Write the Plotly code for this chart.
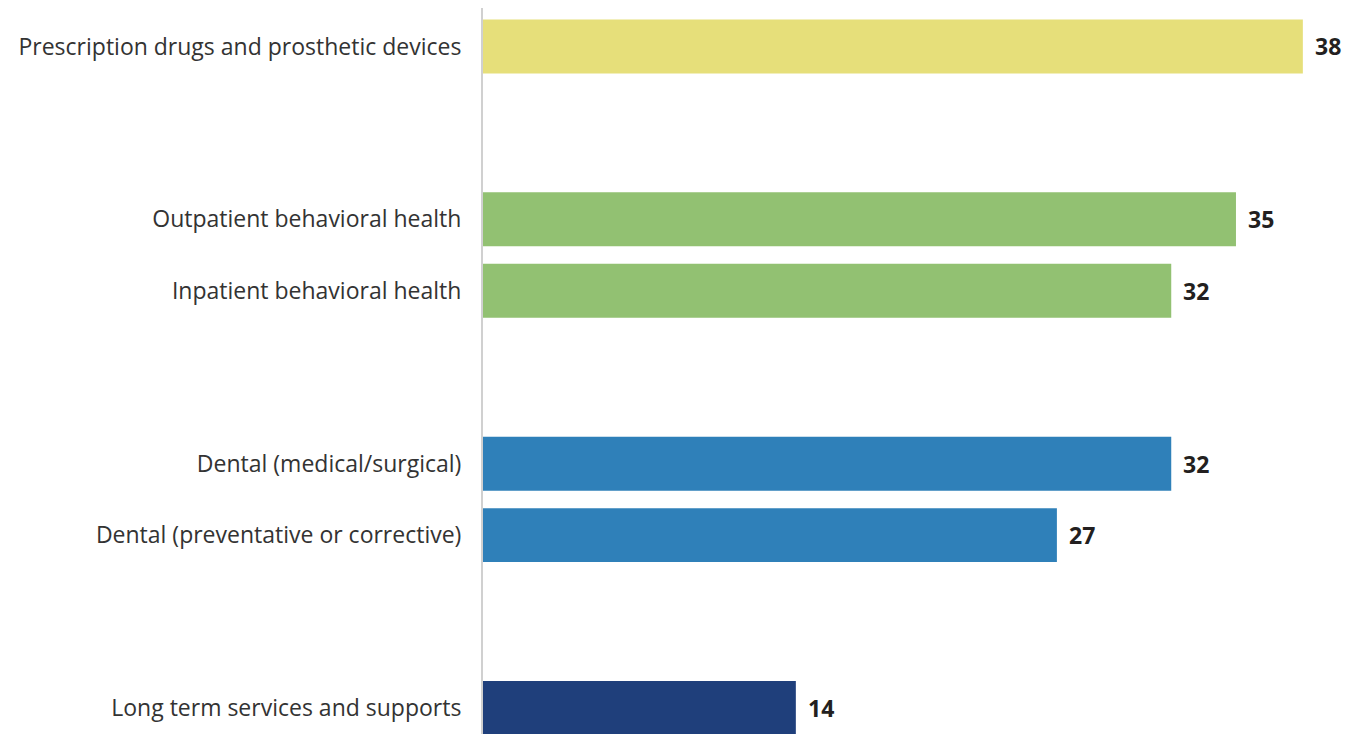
import plotly.graph_objects as go

# Data
categories = [
    "Prescription drugs and prosthetic devices",
    "Outpatient behavioral health",
    "Inpatient behavioral health",
    "Dental (medical/surgical)",
    "Dental (preventative or corrective)",
    "Long term services and supports",
]
values = [38.0, 34.9, 31.9, 31.9, 26.6, 14.5]
value_labels = ["38", "35", "32", "32", "27", "14"]
groups = [0, 1, 1, 2, 2, 3]
group_colors = ["#E6DF7A", "#92C172", "#2F80B9", "#1F3F7B"]

# Layout positions computed from group structure
GROUP_GAP = 2.42
positions = []
pos = 0.0
for i, g in enumerate(groups):
    if i > 0:
        pos += GROUP_GAP if g != groups[i - 1] else 1.0
    positions.append(pos)

colors = [group_colors[g] for g in groups]

fig = go.Figure()
fig.add_trace(go.Bar(
    x=values,
    y=positions,
    orientation="h",
    marker=dict(color=colors, line=dict(width=0)),
    width=0.755,
    hoverinfo="skip",
))

for v, p, t in zip(values, positions, value_labels):
    fig.add_annotation(
        x=v, y=p, text="<b>%s</b>" % t, showarrow=False,
        xanchor="left", yanchor="middle", xshift=10,
        font=dict(family="Open Sans", size=23, color="#231F20"),
    )

fig.update_layout(
    width=1365, height=734,
    margin=dict(l=483, r=19, t=8, b=0),
    plot_bgcolor="white", paper_bgcolor="white",
    showlegend=False,
    font=dict(family="Open Sans", size=23, color="#333333"),
)
fig.update_xaxes(
    range=[0, 40], showgrid=False, zeroline=False, showticklabels=False,
    showline=False, fixedrange=True,
)
fig.update_yaxes(
    range=[positions[-1] + 0.364, -0.538],
    tickmode="array", tickvals=positions, ticktext=categories,
    showgrid=False, zeroline=False,
    showline=True, linecolor="#D0D0D0", linewidth=2,
    ticks="", ticklabelstandoff=15,
    tickfont=dict(family="Open Sans", size=23, color="#333333"),
)

fig.write_html("out.html")
